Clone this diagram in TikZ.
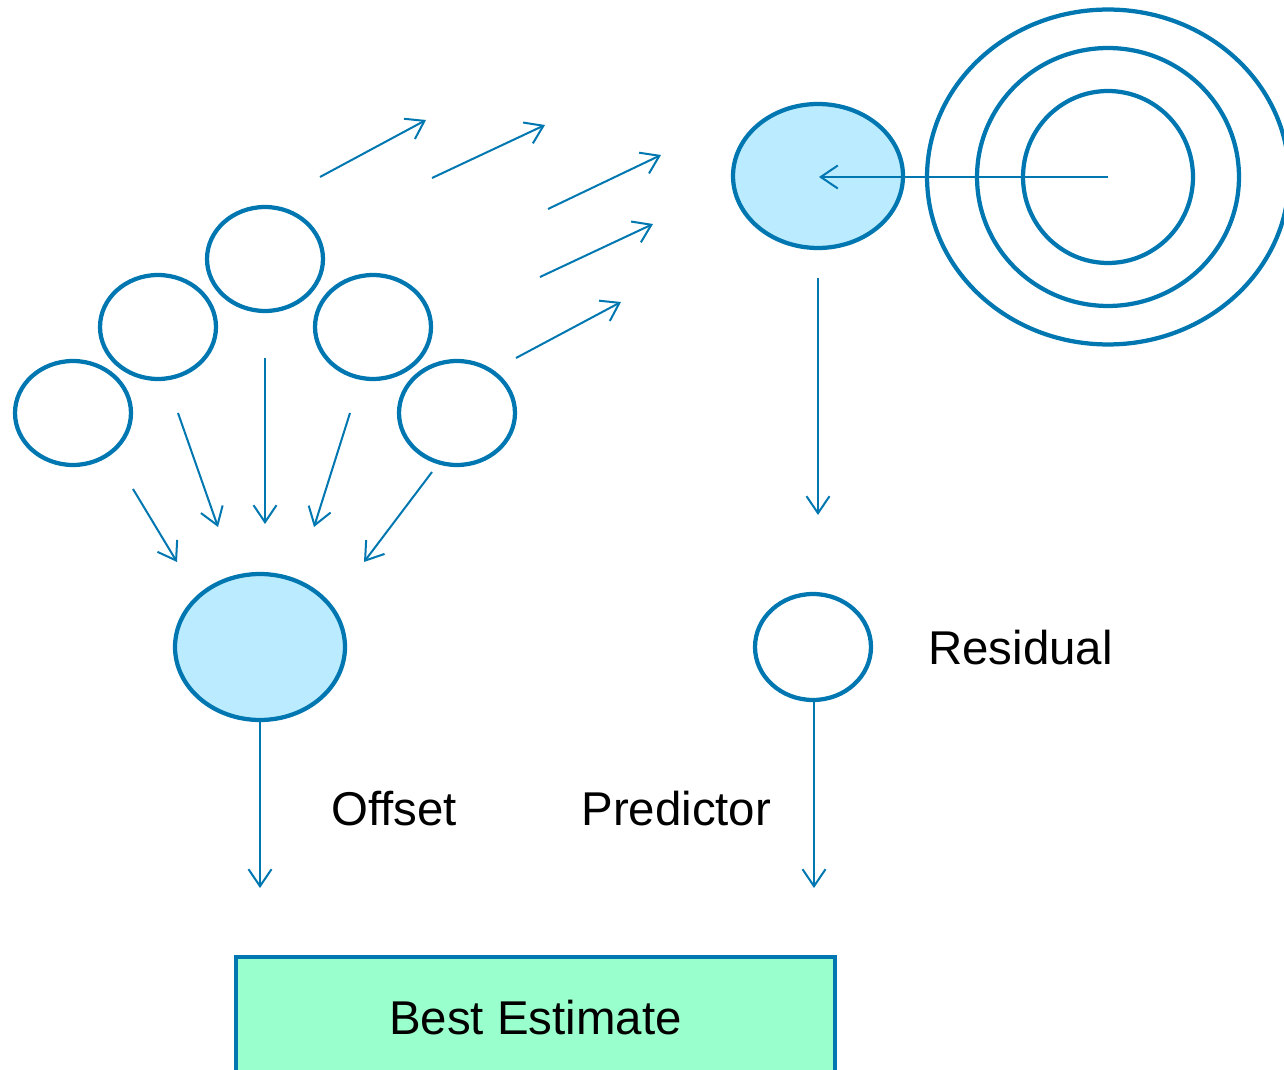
\documentclass[tikz,border=0pt]{standalone}
\usepackage{fontspec}
\setmainfont{Liberation Sans}
\usetikzlibrary{arrows.meta}
\usetikzlibrary{shapes.geometric}

\definecolor{linkblue}{HTML}{0077B0}
\definecolor{paleblue}{HTML}{BBEBFF}
\definecolor{mint}{HTML}{99FFCC}

\tikzset{
  unit/.style={ellipse, draw=linkblue, line width=0.085cm, inner sep=0pt, minimum width=2.32cm, minimum height=2.08cm},
  pooled/.style={unit, fill=paleblue, minimum width=3.4cm, minimum height=2.92cm},
  ring/.style={ellipse, draw=linkblue, line width=0.085cm, inner sep=0pt},
  flow/.style={draw=linkblue, line width=0.04cm, -{Straight Barb[length=0.34cm,width=0.46cm]}},
  lbl/.style={font=\fontsize{27}{32}\selectfont, anchor=west, inner sep=0pt},
  estbox/.style={rectangle, draw=linkblue, fill=mint, line width=0.08cm, inner sep=0pt, font=\fontsize{27}{32}\selectfont}
}

\begin{document}
\begin{tikzpicture}[x=0.02cm, y=-0.02cm]
      \useasboundingbox (0,0) rectangle (1284,1070);
      \clip (0,0) rectangle (1284,1070);

      % group units
      \node[unit] (u1) at (73,413) {};
      \node[unit] (u2) at (158,327) {};
      \node[unit] (u3) at (265,259) {};
      \node[unit] (u4) at (373,327) {};
      \node[unit] (u5) at (457,413) {};
      \node[pooled] (offset) at (260,647) {};

      % target rings
      \node[ring, minimum width=7.24cm, minimum height=6.7cm] (outer) at (1108,177) {};
      \node[ring, minimum width=5.24cm, minimum height=5.16cm] (middle) at (1108,177) {};
      \node[ring, minimum width=3.4cm, minimum height=3.44cm] (inner) at (1108,177) {};
      \node[pooled, minimum height=2.88cm] (pred) at (818,176) {};
      \node[unit, minimum height=2.12cm] (resid) at (813,647) {};

      \node[lbl] (tresid) at (928,648) {Residual};
      \node[lbl] (toffset) at (331,809) {Offset};
      \node[lbl] (tpred) at (581,809) {Predictor};
      \node[estbox, minimum width=11.98cm, minimum height=2.4cm, text depth=0pt] (best) at (535.5,1017) {Best Estimate};

      % arrow ends
      \coordinate (m1s) at (320,177);  \coordinate (m1e) at (426,120);
      \coordinate (m2s) at (432,178);  \coordinate (m2e) at (545,125);
      \coordinate (m3s) at (548,209);  \coordinate (m3e) at (661,155);
      \coordinate (m4s) at (540,277);  \coordinate (m4e) at (653,224);
      \coordinate (m5s) at (516,358);  \coordinate (m5e) at (621,302);

      \coordinate (p1s) at (133,489);  \coordinate (p1e) at (177,562);
      \coordinate (p2s) at (178,413);  \coordinate (p2e) at (218,527);
      \coordinate (p3s) at (265,358);  \coordinate (p3e) at (265,524);
      \coordinate (p4s) at (350,413);  \coordinate (p4e) at (314,527);
      \coordinate (p5s) at (432,472);  \coordinate (p5e) at (364,562);

      \coordinate (centre) at (1108,177);
      \coordinate (hit) at (819,177);
      \coordinate (r1s) at (818,278);  \coordinate (r1e) at (818,515);
      \coordinate (o1s) at (260,721);  \coordinate (o1e) at (260,888);
      \coordinate (q1s) at (814,700);  \coordinate (q1e) at (814,888);

      \draw[flow] (m1s) -- (m1e);
      \draw[flow] (m2s) -- (m2e);
      \draw[flow] (m3s) -- (m3e);
      \draw[flow] (m4s) -- (m4e);
      \draw[flow] (m5s) -- (m5e);

      \draw[flow] (p1s) -- (p1e);
      \draw[flow] (p2s) -- (p2e);
      \draw[flow] (p3s) -- (p3e);
      \draw[flow] (p4s) -- (p4e);
      \draw[flow] (p5s) -- (p5e);

      \draw[flow] (centre) -- (hit);
      \draw[flow] (r1s) -- (r1e);
      \draw[flow] (o1s) -- (o1e);
      \draw[flow] (q1s) -- (q1e);
    \end{tikzpicture}
\end{document}
